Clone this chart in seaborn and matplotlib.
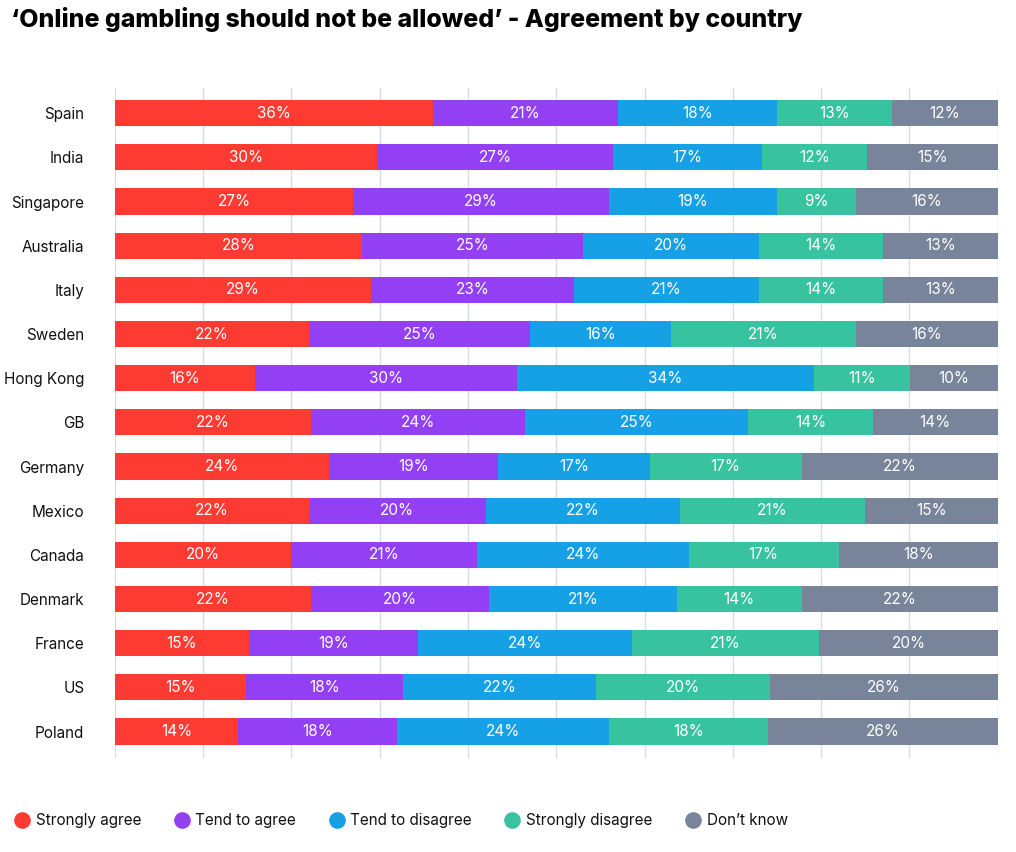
import numpy as np
import pandas as pd
import matplotlib.pyplot as plt
import seaborn as sns
from matplotlib.lines import Line2D

# Dados
paises = ['Spain', 'India', 'Singapore', 'Australia', 'Italy', 'Sweden', 'Hong Kong', 'GB',
          'Germany', 'Mexico', 'Canada', 'Denmark', 'France', 'US', 'Poland']
strongly_agree = [36, 30, 27, 28, 29, 22, 16, 22, 24, 22, 20, 22, 15, 15, 14]
tend_agree = [21, 27, 29, 25, 23, 25, 30, 24, 19, 20, 21, 20, 19, 18, 18]
tend_disagree = [18, 17, 19, 20, 21, 16, 34, 25, 17, 22, 24, 21, 24, 22, 24]
strongly_disagree = [13, 12, 9, 14, 14, 21, 11, 14, 17, 21, 17, 14, 21, 20, 18]
dont_know = [12, 15, 16, 13, 13, 16, 10, 14, 22, 15, 18, 22, 20, 26, 26]

categorias = ['Strongly agree', 'Tend to agree', 'Tend to disagree', 'Strongly disagree', "Don\u2019t know"]
cores = ['#fd3b33', '#9340f5', '#16a1e6', '#38c3a0', '#778499']

df = pd.DataFrame({
    'Strongly agree': strongly_agree,
    'Tend to agree': tend_agree,
    'Tend to disagree': tend_disagree,
    'Strongly disagree': strongly_disagree,
    "Don\u2019t know": dont_know,
}, index=paises)

# normaliza cada linha para 100 (as barras fecham em 100%)
larguras = df.div(df.sum(axis=1), axis=0) * 100
acumulado = larguras.cumsum(axis=1)

sns.set_style('white')
plt.rcParams['font.family'] = ['Inter', 'DejaVu Sans']
plt.rcParams['text.color'] = '#111111'
plt.rcParams['ytick.color'] = '#111111'

fig = plt.figure(figsize=(10.16, 8.52), dpi=100)
ax = fig.add_axes([0.113, 0.1103, 0.869, 0.7864])

# barras empilhadas: desenha do total para o começo
for i in range(len(categorias) - 1, -1, -1):
    sns.barplot(x=acumulado.iloc[:, i].values, y=paises, orient='h', color=cores[i],
                saturation=1, width=0.59, ax=ax, zorder=2, linewidth=0)

# rótulos dentro dos segmentos
for r, pais in enumerate(paises):
    for i, cat in enumerate(categorias):
        fim = acumulado.loc[pais, cat]
        inicio = fim - larguras.loc[pais, cat]
        ax.text((inicio + fim) / 2, r, f"{df.loc[pais, cat]}%", ha='center', va='center',
                color='white', fontsize=11, zorder=3)

ax.set_xlim(0, 100)
ax.set_ylim(14.6, -0.57)
ax.set_xticks(np.arange(0, 101, 10))
ax.set_xticklabels([])
ax.grid(axis='x', color='#d9dce2', linewidth=1, zorder=0)
ax.set_axisbelow(True)
ax.tick_params(axis='y', length=0, pad=22, labelsize=11)
ax.tick_params(axis='x', length=0)
for s in ax.spines.values():
    s.set_visible(False)
ax.set_xlabel('')
ax.set_ylabel('')

fig.text(0.011, 0.977, '\u2018Online gambling should not be allowed\u2019 - Agreement by country',
         fontsize=17.9, fontweight='heavy', color='black', ha='left', va='center')

handles = [Line2D([0], [0], marker='o', linestyle='', markersize=12, markerfacecolor=c,
                  markeredgewidth=0) for c in cores]
fig.legend(handles, categorias, loc='center left', bbox_to_anchor=(-0.001, 0.037), ncol=5,
           frameon=False, fontsize=11, handletextpad=0.3, columnspacing=2.05, handlelength=1.2)

plt.savefig('out.png', dpi=100)
